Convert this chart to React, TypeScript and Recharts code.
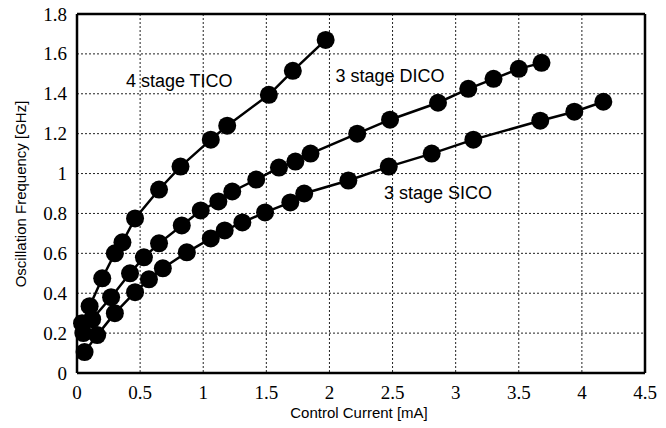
import { ScatterChart, Scatter, XAxis, YAxis, CartesianGrid, ReferenceLine, ReferenceDot } from "recharts";

const xTicks = [0, 0.5, 1, 1.5, 2, 2.5, 3, 3.5, 4, 4.5];
const yTicks = [0, 0.2, 0.4, 0.6, 0.8, 1, 1.2, 1.4, 1.6, 1.8];

const tico = [
  { x: 0.04, y: 0.25 }, { x: 0.1, y: 0.335 }, { x: 0.2, y: 0.475 }, { x: 0.3, y: 0.6 },
  { x: 0.36, y: 0.655 }, { x: 0.46, y: 0.775 }, { x: 0.65, y: 0.92 }, { x: 0.82, y: 1.035 },
  { x: 1.06, y: 1.17 }, { x: 1.19, y: 1.24 }, { x: 1.52, y: 1.395 }, { x: 1.71, y: 1.515 },
  { x: 1.97, y: 1.67 },
];

const dico = [
  { x: 0.05, y: 0.2 }, { x: 0.12, y: 0.27 }, { x: 0.27, y: 0.38 }, { x: 0.42, y: 0.5 },
  { x: 0.53, y: 0.58 }, { x: 0.65, y: 0.65 }, { x: 0.83, y: 0.74 }, { x: 0.98, y: 0.815 },
  { x: 1.12, y: 0.86 }, { x: 1.23, y: 0.91 }, { x: 1.42, y: 0.97 }, { x: 1.6, y: 1.03 },
  { x: 1.73, y: 1.06 }, { x: 1.85, y: 1.1 }, { x: 2.22, y: 1.2 }, { x: 2.48, y: 1.27 },
  { x: 2.86, y: 1.355 }, { x: 3.1, y: 1.425 }, { x: 3.3, y: 1.475 }, { x: 3.5, y: 1.525 },
  { x: 3.68, y: 1.555 },
];

const sico = [
  { x: 0.06, y: 0.105 }, { x: 0.16, y: 0.19 }, { x: 0.3, y: 0.3 }, { x: 0.46, y: 0.405 },
  { x: 0.57, y: 0.47 }, { x: 0.68, y: 0.525 }, { x: 0.87, y: 0.605 }, { x: 1.06, y: 0.675 },
  { x: 1.17, y: 0.715 }, { x: 1.31, y: 0.755 }, { x: 1.49, y: 0.805 }, { x: 1.69, y: 0.855 },
  { x: 1.8, y: 0.9 }, { x: 2.15, y: 0.965 }, { x: 2.47, y: 1.035 }, { x: 2.81, y: 1.1 },
  { x: 3.14, y: 1.17 }, { x: 3.67, y: 1.265 }, { x: 3.94, y: 1.31 }, { x: 4.17, y: 1.36 },
];

const labels = [
  { x: 0.81, y: 1.465, text: "4 stage TICO" },
  { x: 2.48, y: 1.49, text: "3 stage DICO" },
  { x: 2.86, y: 0.905, text: "3 stage SICO" },
];

const serif = "'Liberation Serif', 'Times New Roman', serif";
const sans = "'Liberation Sans', Arial, sans-serif";

const Dot = (props: any) => <circle cx={props.cx} cy={props.cy} r={9} fill="#000" />;

const XTick = (props: any) => (
  <text x={props.x} y={392} textAnchor="middle" dominantBaseline="central"
    style={{ fontFamily: serif, fontSize: 19, fill: "#000" }}>
    {String(props.payload.value)}
  </text>
);

const YTick = (props: any) => (
  <text x={67} y={props.y} textAnchor="end" dominantBaseline="central"
    style={{ fontFamily: serif, fontSize: 19, fill: "#000" }}>
    {String(props.payload.value)}
  </text>
);

const AnnLabel = (text: string) => (props: any) => {
  const { viewBox } = props;
  return (
    <text x={viewBox.x} y={viewBox.y} textAnchor="middle" dominantBaseline="central"
      style={{ fontFamily: sans, fontSize: 18, fill: "#000" }}>
      {text}
    </text>
  );
};

const XTitle = () => (
  <text x={359} y={412} textAnchor="middle" dominantBaseline="central"
    style={{ fontFamily: sans, fontSize: 15, fill: "#000" }}>
    Control Current [mA]
  </text>
);

const YTitle = () => (
  <text x={20} y={194} textAnchor="middle" dominantBaseline="central" transform="rotate(-90 20 194)"
    style={{ fontFamily: sans, fontSize: 15, fill: "#000" }}>
    Oscillation Frequency [GHz]
  </text>
);

export default function App() {
  return (
    <div style={{ position: "absolute", left: 0, top: 0, background: "#fff" }}>
      <ScatterChart width={666} height={428} margin={{ top: 14, right: 21, bottom: 25, left: 17 }}>
        <CartesianGrid stroke="#222" strokeDasharray="2 2" strokeWidth={1} />
        <XAxis
          type="number"
          dataKey="x"
          domain={[0, 4.5]}
          ticks={xTicks}
          tick={XTick}
          tickLine={false}
          axisLine={{ stroke: "#000", strokeWidth: 2.5 }}
          height={30}
          label={XTitle}
        />
        <YAxis
          type="number"
          dataKey="y"
          domain={[0, 1.8]}
          ticks={yTicks}
          tick={YTick}
          tickLine={false}
          axisLine={{ stroke: "#000", strokeWidth: 2.5 }}
          width={60}
          label={YTitle}
        />
        <ReferenceLine y={1.8} stroke="#000" strokeWidth={2.5} />
        <ReferenceLine x={4.5} stroke="#000" strokeWidth={2.5} />
        <Scatter data={tico} shape={Dot} line={{ stroke: "#000", strokeWidth: 2.5 }} isAnimationActive={false} />
        <Scatter data={dico} shape={Dot} line={{ stroke: "#000", strokeWidth: 2.5 }} isAnimationActive={false} />
        <Scatter data={sico} shape={Dot} line={{ stroke: "#000", strokeWidth: 2.5 }} isAnimationActive={false} />
        {labels.map((l) => (
          <ReferenceDot key={l.text} x={l.x} y={l.y} r={0} stroke="none" label={AnnLabel(l.text)} />
        ))}
      </ScatterChart>
    </div>
  );
}
